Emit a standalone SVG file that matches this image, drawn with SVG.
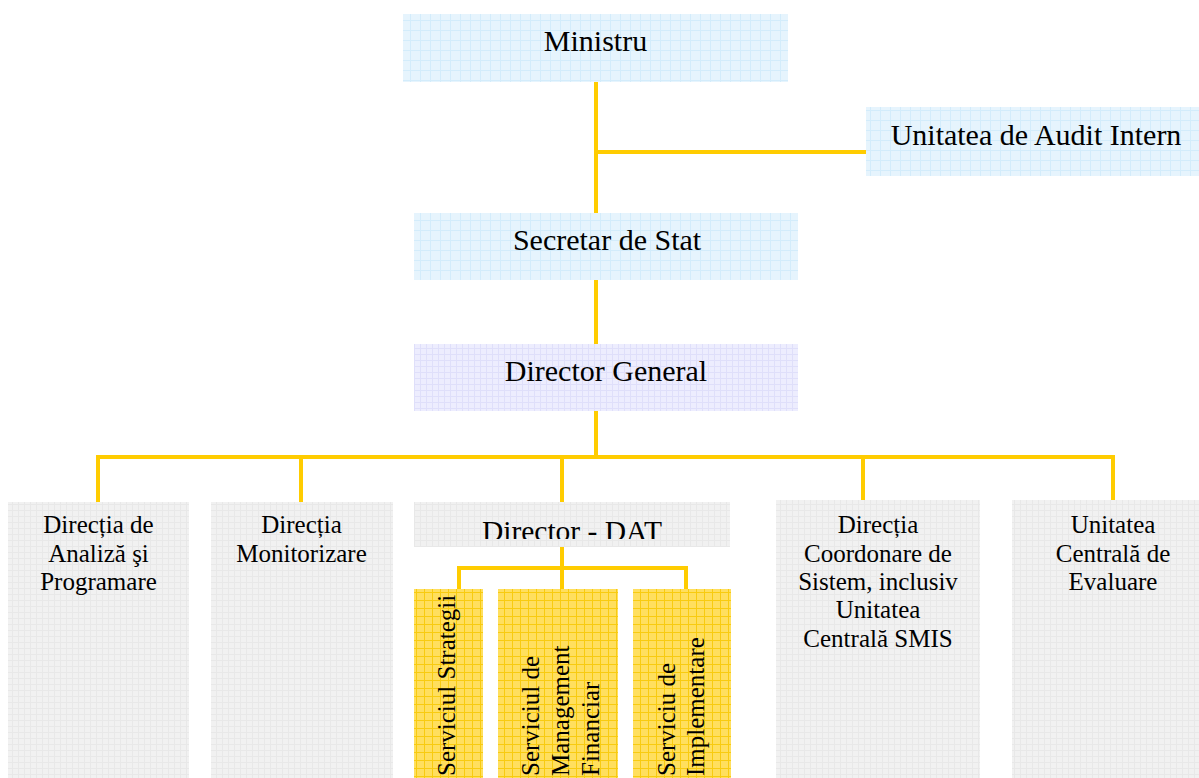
<svg xmlns="http://www.w3.org/2000/svg" width="1199" height="778" viewBox="0 0 1199 778">
<defs>
<pattern id="pBlue" width="10" height="10" patternUnits="userSpaceOnUse">
<rect width="10" height="10" fill="#E6F4FD"/>
<path d="M0 0.5H10M0.5 0V10" stroke="#D3ECFB" stroke-width="1"/>
</pattern>
<pattern id="pLav" width="6" height="6" patternUnits="userSpaceOnUse">
<rect width="6" height="6" fill="#EDEDFE"/>
<path d="M0 0.5H6M0.5 0V6" stroke="#DFDFFA" stroke-width="1"/>
</pattern>
<pattern id="pGrey" width="6" height="6" patternUnits="userSpaceOnUse">
<rect width="6" height="6" fill="#F1F1F1"/>
<path d="M0 0.5H6M0.5 0V6" stroke="#E8E8E8" stroke-width="1"/>
</pattern>
<pattern id="pYel" width="8" height="8" patternUnits="userSpaceOnUse">
<rect width="8" height="8" fill="#FFDF5E"/>
<path d="M0 0.5H8M0.5 0V8" stroke="#F8CB10" stroke-width="1"/>
</pattern>
<clipPath id="clipDat"><rect x="414" y="502" width="316" height="37"/></clipPath>
</defs>
<style>
text{font-family:"Liberation Serif","Times New Roman",serif;fill:#000;}
.big{font-size:30px;text-anchor:middle;}
.sm{font-size:25px;text-anchor:middle;}
.vt{font-size:25px;text-anchor:start;}
.conn{stroke:#FFCC00;stroke-width:4;fill:none;stroke-linecap:butt;}
</style>
<g id="connectors">
<path class="conn" d="M596 82V280"/>
<path class="conn" d="M596 152H866"/>
<path class="conn" d="M596 280V344"/>
<path class="conn" d="M596 411V457"/>
<path class="conn" d="M98 502V457H1113V500"/>
<path class="conn" d="M301 457V502"/>
<path class="conn" d="M562 457V502"/>
<path class="conn" d="M863 457V500"/>
<path class="conn" d="M562 547V589"/>
<path class="conn" d="M459 589V568H686V589"/>
</g>
<g id="ministru">
<rect x="403" y="14" width="385" height="68" fill="url(#pBlue)"/>
<text class="big" x="595.5" y="51">Ministru</text>
</g>
<g id="audit">
<rect x="866" y="107" width="333" height="69" fill="url(#pBlue)"/>
<text class="big" x="1036" y="145">Unitatea de Audit Intern</text>
</g>
<g id="secretar">
<rect x="414" y="213" width="384" height="67" fill="url(#pBlue)"/>
<text class="big" x="607" y="250">Secretar de Stat</text>
</g>
<g id="director-general">
<rect x="414" y="344" width="384" height="67" fill="url(#pLav)"/>
<text class="big" x="606" y="381">Director General</text>
</g>
<g id="dir-analiza">
<rect x="8" y="502" width="181" height="276" fill="url(#pGrey)"/>
<text class="sm" x="98.5" y="533">Direcția de</text>
<text class="sm" x="98.5" y="562">Analiză şi</text>
<text class="sm" x="98.5" y="590">Programare</text>
</g>
<g id="dir-monitorizare">
<rect x="211" y="502" width="182" height="276" fill="url(#pGrey)"/>
<text class="sm" x="301.5" y="533">Direcția</text>
<text class="sm" x="301.5" y="562">Monitorizare</text>
</g>
<g id="director-dat">
<rect x="414" y="502" width="316" height="45" fill="url(#pGrey)"/>
<text class="big" x="572" y="541" clip-path="url(#clipDat)" style="font-size:29.5px">Director - DAT</text>
</g>
<g id="serv-strategii">
<rect x="414" y="589" width="69" height="189" fill="url(#pYel)"/>
<text class="vt" transform="translate(455 776) rotate(-90)">Serviciul Strategii</text>
</g>
<g id="serv-management">
<rect x="498" y="589" width="120" height="189" fill="url(#pYel)"/>
<text class="vt" transform="translate(539 776) rotate(-90)">Serviciul de</text>
<text class="vt" transform="translate(569 776) rotate(-90)">Management</text>
<text class="vt" transform="translate(599 776) rotate(-90)">Financiar</text>
</g>
<g id="serv-implementare">
<rect x="633" y="589" width="98" height="189" fill="url(#pYel)"/>
<text class="vt" transform="translate(675 776) rotate(-90)">Serviciu de</text>
<text class="vt" transform="translate(704 776) rotate(-90)">Implementare</text>
</g>
<g id="dir-coordonare">
<rect x="776" y="500" width="204" height="278" fill="url(#pGrey)"/>
<text class="sm" x="878" y="533">Direcția</text>
<text class="sm" x="878" y="562">Coordonare de</text>
<text class="sm" x="878" y="590">Sistem, inclusiv</text>
<text class="sm" x="878" y="618">Unitatea</text>
<text class="sm" x="878" y="647">Centrală SMIS</text>
</g>
<g id="unitatea-evaluare">
<rect x="1012" y="500" width="187" height="278" fill="url(#pGrey)"/>
<text class="sm" x="1113" y="533">Unitatea</text>
<text class="sm" x="1113" y="562">Centrală de</text>
<text class="sm" x="1113" y="590">Evaluare</text>
</g>
</svg>
